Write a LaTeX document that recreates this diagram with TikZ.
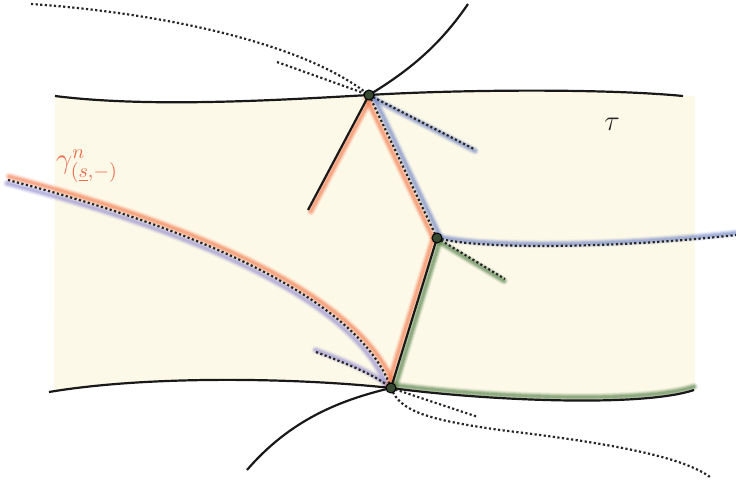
\documentclass[tikz,border=0pt]{standalone}
\usepackage{amsmath}
\usepackage{amssymb}
\usepackage{tikz}
\usetikzlibrary{calc}

\definecolor{cream}{RGB}{253,249,232}
\definecolor{haloorange}{RGB}{246,125,80}
\definecolor{haloblue}{RGB}{115,135,200}
\definecolor{halolilac}{RGB}{150,145,210}
\definecolor{halogreen}{RGB}{85,130,75}
\definecolor{labelred}{RGB}{236,108,78}
\definecolor{vertexgreen}{RGB}{55,75,50}

\tikzset{
  edge/.style={line width=1.1pt, black!90},
  dotedge/.style={line width=1.1pt, dash pattern=on 1.1pt off 1.2pt, black!85},
  glowing/.style={
    preaction={draw=#1, line width=4.2pt, draw opacity=0.1, line cap=round},
    preaction={draw=#1, line width=3.2pt, draw opacity=0.18, line cap=round},
    preaction={draw=#1, line width=2.2pt, draw opacity=0.28, line cap=round},
    preaction={draw=#1, line width=1.2pt, draw opacity=0.35, line cap=round}},
  vertex/.style={circle, draw=black, fill=vertexgreen, line width=0.5pt,
    inner sep=0pt, minimum size=5pt},
}

\begin{document}
\begin{tikzpicture}[x=0.5pt,y=-0.5pt]
\useasboundingbox (0,0) rectangle (736,483);

\coordinate (A) at (369,95);
\coordinate (B) at (437,238);
\coordinate (C) at (391,388);

% region
\fill[cream] (55,96) .. controls (150,108) and (280,100) .. (A)
  .. controls (450,90) and (600,88) .. (683,96) -- (695,96) -- (695,390)
  .. controls (640,408) and (480,400) .. (C)
  .. controls (300,378) and (150,375) .. (54,391) -- cycle;

\coordinate (lfar) at (8,180);
\coordinate (lshort) at (316,352);
\coordinate (aend) at (308,210);
\coordinate (aside) at (474,149);
\coordinate (bside) at (505,279);
\coordinate (bfar) at (736,235);

% halos
\path[glowing=haloorange] ([shift={(1,-3.5)}]lfar) .. controls (201.3,226.5) and (362.6,297.4) .. ([shift={(3.5,-1.3)}]C);
\path[glowing=halolilac] ([shift={(-1,3.3)}]lfar) .. controls (198.7,233.3) and (357.4,302.4) .. ([shift={(-3.3,1.2)}]C);
\path[glowing=halolilac] ([shift={(-0.5,-2)}]lshort) .. controls (350,363) and (375,373.5) .. (C);
\path[glowing=haloorange] ([shift={(2.8,1.5)}]aend) -- ([shift={(2.8,1.5)}]A);
\path[glowing=haloorange] ([shift={(-3.2,1.5)}]A) -- ([shift={(-3.2,1.5)}]B);
\path[glowing=haloblue] ([shift={(3.2,-1.5)}]A) -- ([shift={(3.2,-1.5)}]B);
\path[glowing=haloblue] ([shift={(1,1.8)}]A) -- ([shift={(1,1.8)}]aside);
\path[glowing=haloorange] ([shift={(-3.4,-1)}]B) -- ([shift={(-3.4,-1)}]C);
\path[glowing=halogreen] ([shift={(3.4,1)}]B) -- ([shift={(3.4,1)}]C);
\path[glowing=halogreen] ([shift={(-1,1.8)}]B) -- ([shift={(-1,1.8)}]bside);
\path[glowing=haloblue] ([shift={(0,-2)}]B) .. controls (480,248) and (620,246) .. ([shift={(0,-2)}]bfar);
\path[glowing=halogreen] ([shift={(0,-3.4)}]C) .. controls (480,396.6) and (640,404.6) .. (694,386.6);

% boundary of tau
\draw[edge] (55,96) .. controls (150,108) and (280,100) .. (A)
  .. controls (450,90) and (600,88) .. (683,96);
\draw[edge] (49,392) .. controls (150,375) and (300,378) .. (C)
  .. controls (480,400) and (640,408) .. (694,390);

% through the top vertex
\draw[edge] (aend) -- (A) .. controls (410,70) and (440,45) .. (468,4);
\draw[dotedge] (31,4) .. controls (150,12) and (300,40) .. (A);
\draw[dotedge] (277,62) -- (A);
\draw[dotedge] (A) -- (aside);
\draw[dotedge] (A) -- (B);

% through the middle vertex
\draw[edge] (B) -- (C);
\draw[dotedge] (B) -- (bside);
\draw[dotedge] (B) .. controls (480,250) and (620,248) .. (bfar);

% through the bottom vertex
\draw[dotedge] (lfar) .. controls (200,230) and (360,300) .. (C);
\draw[dotedge] (lshort) .. controls (350,365) and (375,375) .. (C);
\draw[edge] (247,470) .. controls (290,420) and (340,400) .. (C);
\draw[dotedge] (C) -- (478,417);
\draw[dotedge] (C) .. controls (400,412) and (430,420) .. (500,430)
  .. controls (600,442) and (680,455) .. (710,477);

\node[vertex] (va) at (A) {};
\node[vertex] (vb) at (B) {};
\node[vertex] (vc) at (C) {};

\node[text=labelred, font=\Large] (gam) at (87,166) {$\gamma^{n}_{(\underline{s},-)}$};
\node[text=black!85, font=\Large] (tau) at (612,124) {$\tau$};
\end{tikzpicture}
\end{document}
